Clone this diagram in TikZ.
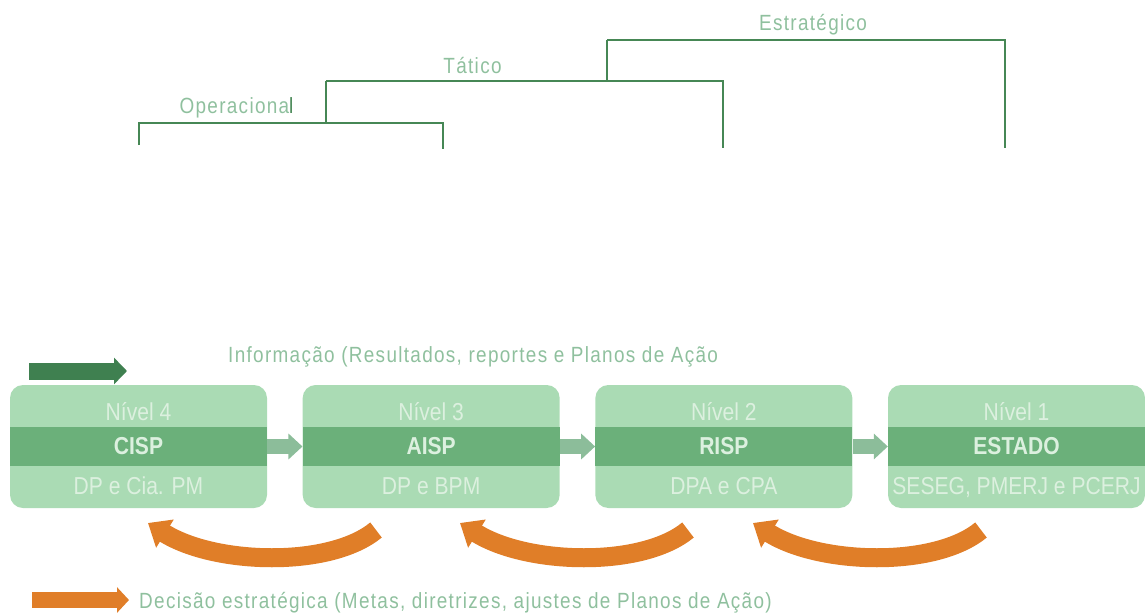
\documentclass[tikz,border=0pt]{standalone}
\usepackage{fontspec}
\setmainfont{Liberation Sans}[FakeStretch=0.86]
\newfontfamily\legendfont{Liberation Sans}[FakeStretch=0.86,LetterSpace=6]
\usetikzlibrary{arrows.meta,positioning}
\definecolor{boxgreen}{RGB}{170,219,180}
\definecolor{bandgreen}{RGB}{107,176,122}
\definecolor{paletext}{RGB}{220,240,223}
\definecolor{labelgreen}{RGB}{143,192,158}
\definecolor{linegreen}{RGB}{70,135,85}
\definecolor{darkgreen}{RGB}{63,128,80}
\definecolor{flowgreen}{RGB}{140,189,154}
\definecolor{decorange}{RGB}{224,126,40}

\begin{document}
\begin{tikzpicture}[x=1pt, y=-1pt,
  level/.style={fill=boxgreen, rounded corners=13pt, minimum width=257pt, minimum height=123pt, inner sep=0pt},
  band/.style={fill=bandgreen, minimum width=257pt, minimum height=39pt, inner sep=0pt},
  boxtext/.style={anchor=base, inner sep=0pt, text=paletext, font=\fontsize{24.5}{25}\selectfont},
  legend/.style={inner sep=0pt, text=labelgreen, font=\legendfont\fontsize{22}{24}\selectfont},
  bracket/.style={draw=linegreen, line width=2.5pt},
  flow/.style={draw=flowgreen, line width=15pt, -{Triangle[length=14pt,width=25pt]}},
  infoarrow/.style={draw=darkgreen, line width=17pt, -{Triangle[length=13pt,width=26pt]}},
  decide/.style={draw=decorange, line width=16pt, -{Triangle[length=12pt,width=25pt]}},
  turn/.style={draw=decorange, line width=19pt, -{Triangle[length=20pt,width=32pt]}}]
  \useasboundingbox (0,0) rectangle (1145,613);

  % levels of decision
  \draw[bracket] (139,145) -- (139,123) -- (443,123) -- (443,149);
  \draw[bracket] (326,123) -- (326,81);
  \draw[bracket] (326,81) -- (723,81) -- (723,148);
  \draw[bracket] (607,81) -- (607,40);
  \draw[bracket] (607,40) -- (1005,40) -- (1005,148);
  \node[legend, anchor=base] (op) at (236.5,113) {Operaciona{\color{linegreen}l}};
  \node[legend, anchor=base] (tat) at (472.5,73) {Tático};
  \node[legend, anchor=base] (est) at (813,30) {Estratégico};

  % information flow
  \coordinate (infoA) at (29,371);
  \coordinate (infoB) at (127,371);
  \draw[infoarrow] (infoA) -- (infoB);
  \node[legend, anchor=base west] (info) at (228,362) {Informação (Resultados, reportes e Planos de Ação};

  \foreach \niv/\sigla/\orgaos [count=\i] in {4/CISP/DP e Cia. PM, 3/AISP/DP e BPM, 2/RISP/DPA e CPA, 1/ESTADO/{SESEG, PMERJ e PCERJ}} {
    \pgfmathsetmacro{\cx}{138.5+292.67*(\i-1)}
    \node[level] (b\i) at (\cx,446.5) {};
    \node[band] (s\i) at (b\i.center) {};
    \node[boxtext] (t\i) at (\cx,420) {Nível \niv};
    \node[boxtext, font=\fontsize{24.5}{25}\selectfont\bfseries] (c\i) at (\cx,454) {\sigla};
    \node[boxtext] (o\i) at (\cx,494) {\orgaos};
  }
  \foreach \i [evaluate=\i as \j using int(\i+1)] in {1,2,3}
    \draw[flow] (b\i.east) -- (b\j.west);

  % strategic decision
  \foreach \dx [count=\i] in {0,312,605} {
    \coordinate (r\i) at (376+\dx,530);
    \coordinate (l\i) at (148+\dx,523);
    \draw[turn] (r\i) .. controls +(-46,38) and +(67,42) .. (l\i);
  }
  \coordinate (decA) at (32,600);
  \coordinate (decB) at (129,600);
  \draw[decide] (decA) -- (decB);
  \node[legend, anchor=base west] (dec) at (139,608) {Decisão estratégica (Metas, diretrizes, ajustes de Planos de Ação)};
\end{tikzpicture}
\end{document}
